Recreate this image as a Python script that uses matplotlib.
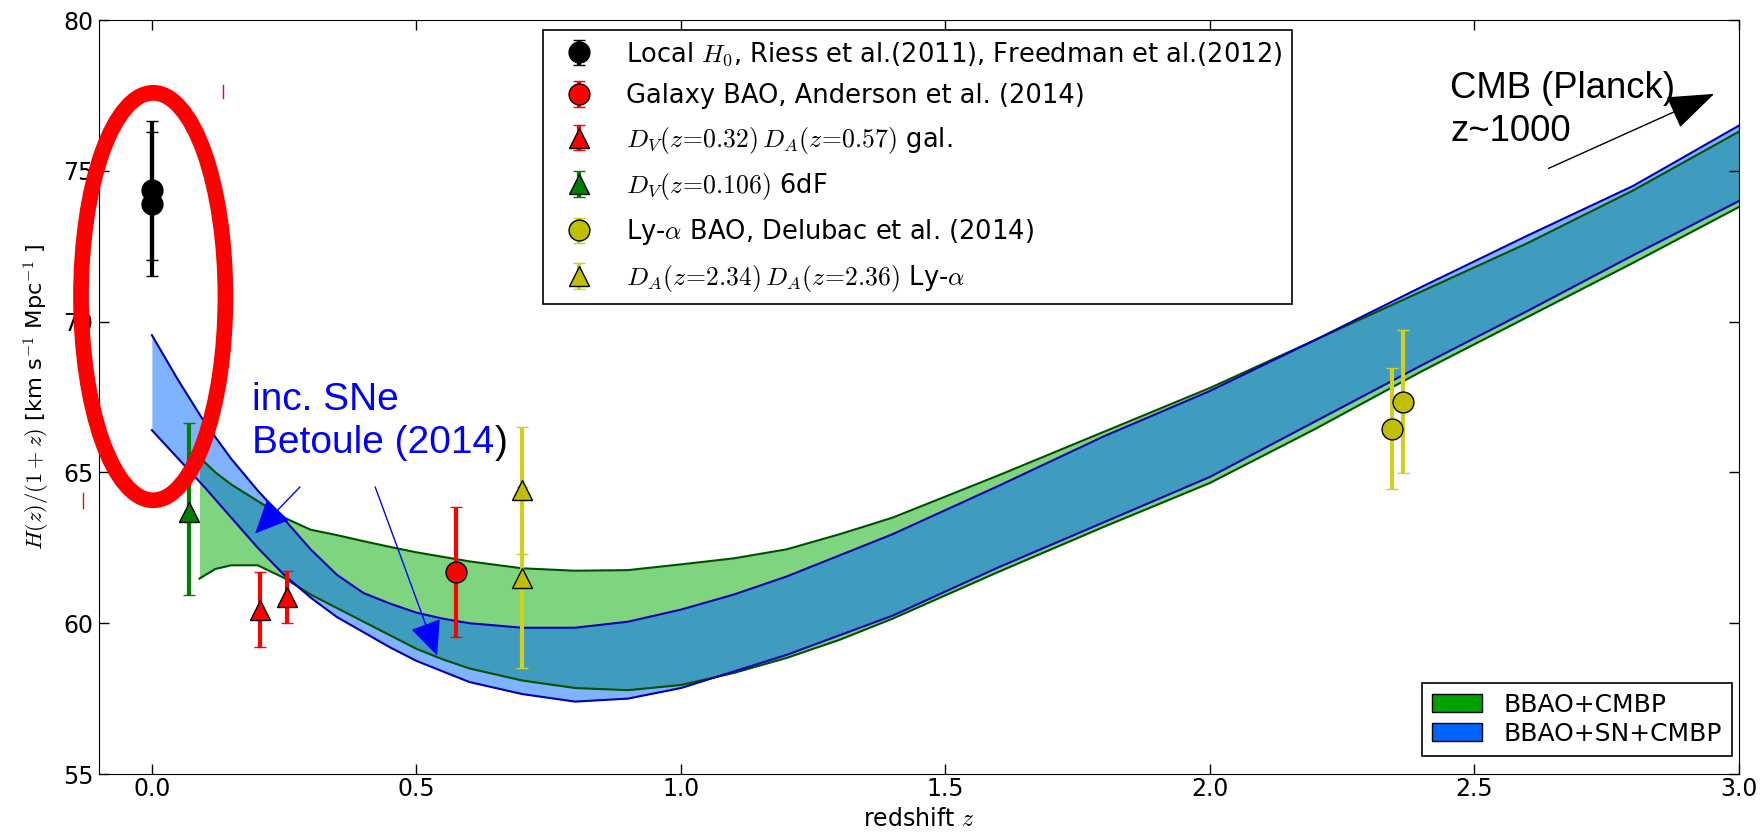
import matplotlib
matplotlib.use("Agg")
import matplotlib.pyplot as plt
from matplotlib.patches import Ellipse, Patch

plt.rcParams['font.family'] = ['DejaVu Sans']
plt.rcParams['mathtext.fontset'] = 'cm'

# ---- bands: H(z)/(1+z) ranges ----
z_blue = [0.0, 0.05, 0.1, 0.15, 0.2, 0.25, 0.3, 0.35, 0.4, 0.45, 0.5, 0.55, 0.6,
          0.7, 0.8, 0.9, 1.0, 1.1, 1.2, 1.4, 1.6, 1.8, 2.0, 2.2, 2.4, 2.6, 2.8, 3.0]
blue_hi = [69.55, 68.05, 66.65, 65.45, 64.4, 63.45, 62.45, 61.6, 61.0, 60.65, 60.35,
           60.15, 60.0, 59.85, 59.85, 60.05, 60.45, 60.95, 61.55, 62.95, 64.55,
           66.2, 67.7, 69.4, 71.15, 72.85, 74.5, 76.5]
blue_lo = [66.4, 65.45, 64.5, 63.5, 62.5, 61.6, 60.85, 60.2, 59.7, 59.2, 58.75,
           58.4, 58.05, 57.65, 57.4, 57.5, 57.85, 58.4, 58.95, 60.25, 61.85,
           63.35, 64.85, 66.7, 68.55, 70.35, 72.2, 74.0]

z_green = [0.09, 0.12, 0.15, 0.2, 0.25, 0.3, 0.35, 0.4, 0.45, 0.5, 0.55, 0.6, 0.7,
           0.8, 0.9, 1.0, 1.1, 1.2, 1.3, 1.4, 1.6, 1.8, 2.0, 2.2, 2.4, 2.6, 2.8, 3.0]
green_hi = [65.5, 65.0, 64.6, 64.05, 63.5, 63.1, 62.92, 62.72, 62.53, 62.35, 62.2,
            62.05, 61.82, 61.74, 61.76, 61.95, 62.15, 62.45, 62.95, 63.5, 64.9,
            66.35, 67.8, 69.4, 71.0, 72.6, 74.35, 76.3]
green_lo = [61.48, 61.8, 61.92, 61.92, 61.5, 60.95, 60.5, 60.05, 59.6, 59.15, 58.8,
            58.5, 58.1, 57.85, 57.78, 57.95, 58.35, 58.85, 59.45, 60.15, 61.7,
            63.2, 64.65, 66.45, 68.35, 70.15, 71.95, 73.8]

# ---- data points ----
h0_z = [0.0, 0.0]
h0_y = [74.35, 73.9]
h0_err = [2.3, 2.4]

gal_z = [0.574]
gal_y = [61.7]
gal_err = [2.15]

galtri_z = [0.204, 0.255]
galtri_y = [60.45, 60.87]
galtri_err = [1.25, 0.87]

sixdf_z = [0.070]
sixdf_y = [63.69]
sixdf_err = [[2.74], [2.95]]

lya_z = [2.345, 2.365]
lya_y = [66.45, 67.34]
lya_err = [2.0, 2.37]

lyatri_z = [0.70, 0.70]
lyatri_y = [64.4, 61.5]
lyatri_err = [2.1, 3.0]

fig = plt.figure(figsize=(17.63, 8.35), dpi=100)
ax = fig.add_axes([99 / 1763, 1 - 774 / 835, 1640 / 1763, 754 / 835])

# bands
ax.fill_between(z_green, green_lo, green_hi, color='#00aa00', alpha=0.5, lw=0)
ax.plot(z_green, green_hi, color='#005000', lw=1.5)
ax.plot(z_green, green_lo, color='#005000', lw=1.5)
ax.fill_between(z_blue, blue_lo, blue_hi, color='#0066ff', alpha=0.5, lw=0)
ax.plot(z_blue, blue_hi, color='#0000b0', lw=1.5)
ax.plot(z_blue, blue_lo, color='#0000b0', lw=1.5)

# points
kw = dict(ls='none', capsize=4.5, elinewidth=3, capthick=1.5, markersize=15,
          markeredgecolor='k', markeredgewidth=1)
ax.errorbar(h0_z, h0_y, yerr=h0_err, fmt='o', color='k', ecolor='k',
            label=r'Local $H_0$, Riess et al.(2011), Freedman et al.(2012)', **kw)
ax.errorbar(gal_z, gal_y, yerr=gal_err, fmt='o', color='r', ecolor='r',
            label='Galaxy BAO, Anderson et al. (2014)', **kw)
ax.errorbar(galtri_z, galtri_y, yerr=galtri_err, fmt='^', color='r', ecolor='r',
            label=r'$D_V(z\!=\!0.32)\,D_A(z\!=\!0.57)$ gal.', **kw)
ax.errorbar(sixdf_z, sixdf_y, yerr=sixdf_err, fmt='^', color='#008000', ecolor='#008000',
            label=r'$D_V(z\!=\!0.106)$ 6dF', **kw)
ax.errorbar(lya_z, lya_y, yerr=lya_err, fmt='o', color='#bfbf00', ecolor='#d0d020',
            label=r'Ly-$\alpha$ BAO, Delubac et al. (2014)', **kw)
ax.errorbar(lyatri_z, lyatri_y, yerr=lyatri_err, fmt='^', color='#bfbf00', ecolor='#d0d020',
            label=r'$D_A(z\!=\!2.34)\,D_A(z\!=\!2.36)$ Ly-$\alpha$', **kw)

ax.set_xlim(-0.1, 3.0)
ax.set_ylim(55, 80)
ax.set_xticks([0.0, 0.5, 1.0, 1.5, 2.0, 2.5, 3.0])
ax.set_yticks([55, 60, 65, 70, 75, 80])
ax.tick_params(direction='in', top=True, right=True, length=7, width=1, labelsize=17)
ax.tick_params(axis='x', pad=2.5)
ax.tick_params(axis='y', pad=4)
ax.set_xlabel(r'redshift $z$', fontsize=17, labelpad=4)
ax.set_ylabel(r'$H(z)/(1+z)$ [km s$^{-1}$ Mpc$^{-1}$ ]', fontsize=16.2, labelpad=8)

leg1 = ax.legend(loc='upper left', bbox_to_anchor=(0.271, 0.987), borderaxespad=0,
                 numpoints=1, fontsize=18.5, fancybox=False, edgecolor='k',
                 framealpha=1, labelspacing=0.6)
leg1.get_frame().set_linewidth(1.2)
ax.add_artist(leg1)

handles = [Patch(facecolor='#00a000', edgecolor='k', label='BBAO+CMBP'),
           Patch(facecolor='#0064ff', edgecolor='k', label='BBAO+SN+CMBP')]
leg2 = ax.legend(handles=handles, loc='lower right', bbox_to_anchor=(0.9957, 0.024),
                 borderaxespad=0, fontsize=18, fancybox=False, edgecolor='k',
                 framealpha=1, labelspacing=0.2, handlelength=2.0, handletextpad=0.85)
leg2.get_frame().set_linewidth(1.2)

# annotations
txt = ax.text(0.19, 68.0, 'inc. SNe\nBetoule (2014', color='blue', fontsize=28,
              family='Liberation Sans', va='top', ha='left', linespacing=1.25)
ax.annotate(')', xy=(1, 0), xycoords=txt, va='bottom', ha='left', fontsize=28,
            family='Liberation Sans', color='k')
arrow_kw = dict(arrowstyle='-|>,head_length=1.1,head_width=0.5', color='blue',
                lw=1, mutation_scale=20, shrinkA=0, shrinkB=0)
ax.annotate('', xy=(0.195, 62.97), xytext=(0.280, 64.52), arrowprops=arrow_kw)
ax.annotate('', xy=(0.539, 58.93), xytext=(0.422, 64.52), arrowprops=arrow_kw)

ax.text(2.454, 78.32, 'CMB (Planck)\nz~1000', color='k', fontsize=26.3,
        family='Liberation Sans', va='top', ha='left', linespacing=1.3)
ax.annotate('', xy=(2.953, 77.55), xytext=(2.640, 75.08),
            arrowprops=dict(arrowstyle='-|>,head_length=1.5,head_width=0.55',
                            color='k', lw=1, mutation_scale=20, shrinkA=0, shrinkB=0))

# red highlight ellipse and stray marks
ax.add_patch(Ellipse((0.0025, 70.83), 0.273, 13.51, fill=False, ec='red', lw=11.3,
                     clip_on=False, zorder=10))
ax.plot([0.135, 0.135], [77.41, 77.85], color='red', lw=1, clip_on=False)
ax.plot([-0.131, -0.131], [63.81, 64.31], color='red', lw=1, clip_on=False)

fig.savefig('out.png', dpi=100)
